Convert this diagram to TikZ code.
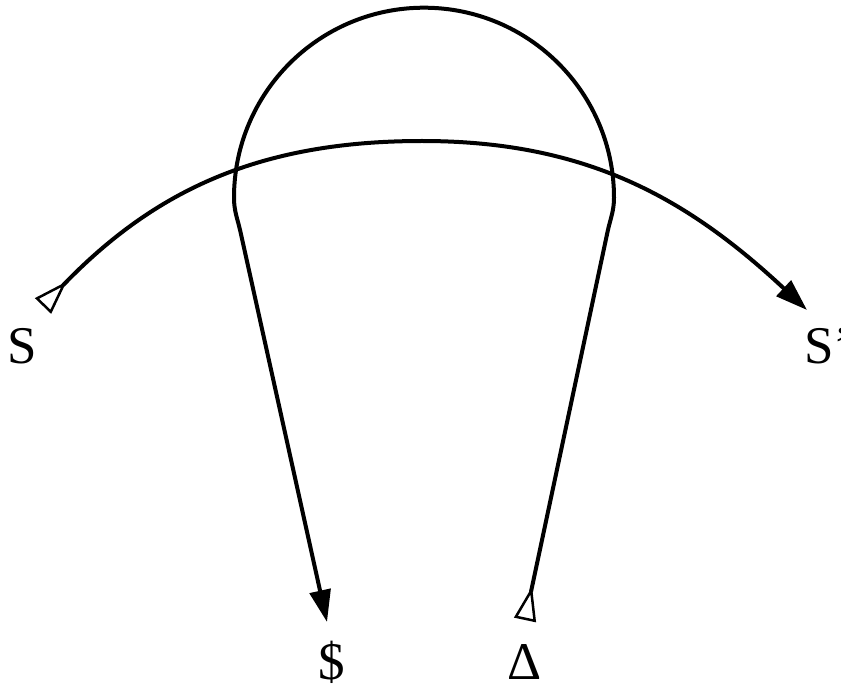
\documentclass[tikz,border=0pt]{standalone}
\usepackage{fontspec}
\setmainfont{Liberation Serif}
\usetikzlibrary{arrows.meta}
\tikzset{
  curve/.style={line width=4pt, line cap=round},
  opentail/.style={{Triangle[open,reversed,length=34pt,width=22pt,line width=2.5pt]}-{Triangle[length=32pt,width=21pt]}},
  lbl/.style={font=\fontsize{53}{60}\selectfont, inner sep=0pt, anchor=base}
}
\begin{document}
\begin{tikzpicture}[x=1pt,y=-1pt]
\useasboundingbox (0,0) rectangle (841,687);
% labels
\node[lbl] (S) at (22.5,363) {S};
\node[lbl, anchor=base west] (Sp) at (804,363) {S'};
\node[lbl] (dollar) at (331.5,679) {\$};
\node[lbl] (delta) at (524.5,679) {Δ};
% end points
\coordinate (sEnd) at (43,306);
\coordinate (spEnd) at (807,310);
\coordinate (top) at (422,141);
\coordinate (dEnd) at (525,620);
\coordinate (dolEnd) at (327,622);
\coordinate (r1) at (607.5,232);
\coordinate (r2) at (614,197.7);
\coordinate (l1) at (240.5,232);
% big arc S -> S'
\draw[curve, opentail] (sEnd) to[out=46,in=180] (top) to[out=0,in=137] (spEnd);
% loop Delta -> $
\draw[curve, opentail] (dEnd) -- (r1) to[out=78,in=-90] (r2)
  arc[start angle=0,end angle=-180,radius=190]
  to[out=-90,in=102.5] (l1) -- (dolEnd);
\end{tikzpicture}
\end{document}
